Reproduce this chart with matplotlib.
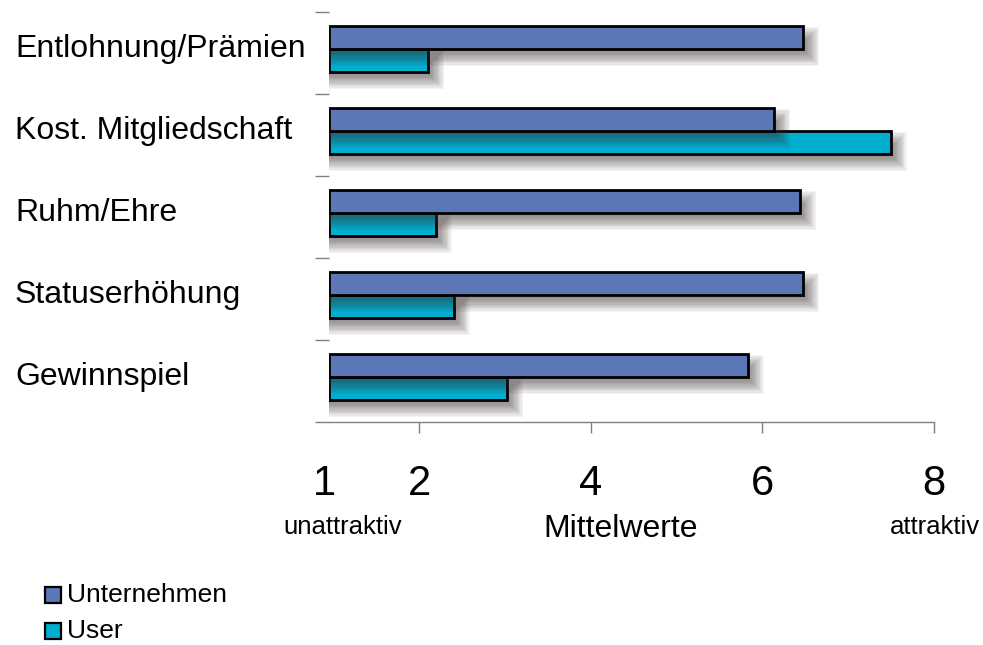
import matplotlib
matplotlib.use("Agg")
import matplotlib.pyplot as plt
from matplotlib.patches import Rectangle
from matplotlib.transforms import blended_transform_factory

plt.rcParams['font.family'] = ['Liberation Sans', 'DejaVu Sans']

# --- data ---------------------------------------------------------------
categories = ["Entlohnung/Prämien", "Kost. Mitgliedschaft", "Ruhm/Ehre",
              "Statuserhöhung", "Gewinnspiel"]
series_names = ["Unternehmen", "User"]
unternehmen = [6.48, 6.14, 6.44, 6.48, 5.83]
user = [2.10, 7.50, 2.19, 2.40, 3.02]
tick_values = [1, 2, 4, 6, 8]
tick_labels = ["1", "2", "4", "6", "8"]

# --- style --------------------------------------------------------------
C_UNT = "#5b77b6"
C_USER = "#00aecf"
SHADOW = "#3a2e2e"
GRID = "#808080"
XMIN, XMAX = 0.945, 8.0

W, H = 983, 645
fig = plt.figure(figsize=(W / 100, H / 100), dpi=100)
ax = fig.add_axes([329 / W, 1 - 422 / H, (933.5 - 329) / W, (422 - 12) / H])
ax.set_xlim(XMIN, XMAX)
ax.set_ylim(len(categories) - 0.5, -0.5)


def fx(px):
    return px / W


def fy(py):
    return 1 - py / H


px_x = ax.transData.transform((1, 0))[0] - ax.transData.transform((0, 0))[0]
px_y = abs(ax.transData.transform((0, 1))[1] - ax.transData.transform((0, 0))[1])


def soft_shadow(left, right, yc, h, z, dx=8, dy=9, blur=8, n=14, a=0.055):
    """Blurred drop shadow built from stacked translucent rectangles."""
    for k in range(n):
        g = -blur + 2 * blur * k / (n - 1)
        x0 = left - 1
        x1 = right + (dx + g) / px_x
        y0 = yc - h / 2 + (dy - g) / px_y
        y1 = yc + h / 2 + (dy + g) / px_y
        ax.add_patch(Rectangle((x0, y0), x1 - x0, y1 - y0, facecolor=SHADOW,
                               edgecolor="none", alpha=a, zorder=z))


bar_h = 0.28
group_off = -0.05
y_unt = [i + group_off - bar_h / 2 for i in range(len(categories))]
y_user = [i + group_off + bar_h / 2 for i in range(len(categories))]

for i in range(len(categories)):
    soft_shadow(XMIN, user[i], y_user[i], bar_h, 1)
ax.barh(y_user, [v - XMIN for v in user], left=XMIN, height=bar_h,
        color=C_USER, edgecolor="black", linewidth=2.0, zorder=2)
for i in range(len(categories)):
    soft_shadow(XMIN, unternehmen[i], y_unt[i], bar_h, 3)
ax.barh(y_unt, [v - XMIN for v in unternehmen], left=XMIN, height=bar_h,
        color=C_UNT, edgecolor="black", linewidth=2.0, zorder=4)

# --- axes ---------------------------------------------------------------
for s in ("left", "top", "right"):
    ax.spines[s].set_visible(False)
ax.spines["bottom"].set_color(GRID)
ax.spines["bottom"].set_linewidth(1.0)

ax.set_yticks([i - 0.5 for i in range(len(categories) + 1)])
ax.set_yticklabels([])
ax.tick_params(axis="y", length=10, width=1.0, color=GRID, direction="out")

ax.set_xticks(tick_values[1:])
ax.set_xticklabels([])
ax.tick_params(axis="x", length=8, width=1.0, color=GRID, direction="out")

tx = blended_transform_factory(ax.transData, fig.transFigure)
for v, lab in zip(tick_values, tick_labels):
    xpos = v if v > XMIN + 0.5 else XMIN - 0.05
    ax.text(xpos, fy(484), lab, transform=tx, ha="center", va="center",
            fontsize=30, color="black")

fig.text(fx(343), fy(527), "unattraktiv", ha="center", va="center", fontsize=18.5)
fig.text(fx(621), fy(529), "Mittelwerte", ha="center", va="center", fontsize=23)
fig.text(fx(935), fy(527), "attraktiv", ha="center", va="center", fontsize=18.5)

ty = blended_transform_factory(fig.transFigure, ax.transData)
for i, cat in enumerate(categories):
    ax.text(fx(15), i + group_off, cat, transform=ty, ha="left", va="center",
            fontsize=23, color="black")

# --- legend -------------------------------------------------------------
for name, col, yc in zip(series_names, [C_UNT, C_USER], [595, 631]):
    fig.patches.append(Rectangle((fx(45), fy(yc + 8)), 16 / W, 16 / H,
                                 transform=fig.transFigure, facecolor=col,
                                 edgecolor="black", linewidth=1.6))
    fig.text(fx(67), fy(yc), name, ha="left", va="center", fontsize=19)

fig.savefig("out.png", dpi=100)
